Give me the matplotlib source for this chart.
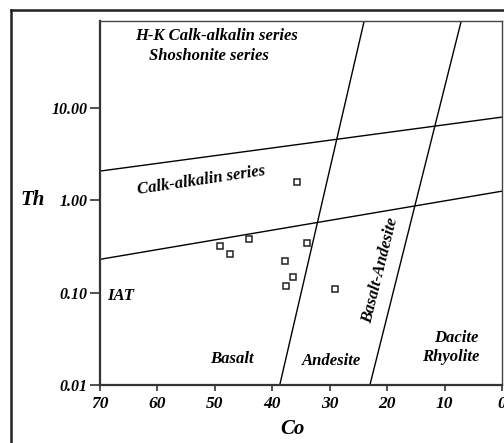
import matplotlib
matplotlib.use('Agg')
import matplotlib.pyplot as plt
from matplotlib.lines import Line2D

# datos de las muestras (Co, Th)
co = [49.1, 47.4, 44.1, 35.7, 34.0, 37.8, 36.4, 37.6, 29.1]
th = [0.32, 0.26, 0.38, 1.58, 0.345, 0.22, 0.148, 0.118, 0.11]

# limites del diagrama (extremos de cada recta)
linea_sup_co = [70, 0]
linea_sup_th = [2.08, 8.0]
linea_inf_co = [70, 0]
linea_inf_th = [0.23, 1.26]
linea_izq_co = [38.7, 24.0]
linea_izq_th = [0.01, 88]
linea_der_co = [23.0, 7.1]
linea_der_th = [0.01, 88]

yticks = [0.01, 0.1, 1, 10]
ylabels = ["0.01", "0.10", "1.00", "10.00"]
xticks = [70, 60, 50, 40, 30, 20, 10, 0]

fuente = dict(family='Liberation Serif', weight='bold', style='italic')

fig = plt.figure(figsize=(5.04, 4.43), dpi=100)
ax = fig.add_axes([100/504, 1-385/443, 402/504, 364/443])
ax.set_yscale('log')
ax.set_xlim(70, 0)
ax.set_ylim(0.01, 88)

for xs, ys in [(linea_sup_co, linea_sup_th), (linea_inf_co, linea_inf_th),
               (linea_izq_co, linea_izq_th), (linea_der_co, linea_der_th)]:
  ax.plot(xs, ys, color='black', lw=1.0, clip_on=True)

ax.plot(co, th, ls='none', marker='s', ms=5, mfc='white', mec='#222222', mew=1.1)

ax.set_yticks(yticks)
ax.set_yticklabels(ylabels, **fuente, fontsize=11.5)
ax.set_xticks(xticks)
ax.set_xticklabels([str(v) for v in xticks], **fuente, fontsize=12.5)
ax.minorticks_off()
ax.tick_params(axis='y', direction='out', length=7, width=1.2, color='#333333', pad=2)
ax.tick_params(axis='x', direction='out', length=4, width=1.2, color='#333333', pad=4)

for s in ['left', 'bottom']:
  ax.spines[s].set_linewidth(1.6)
  ax.spines[s].set_color('#333333')
for s in ['top', 'right']:
  ax.spines[s].set_linewidth(1.0)
  ax.spines[s].set_color('#444444')

# textos de los campos
def px(x, y):
  return (x/504, 1-y/443)

fig.text(*px(217, 36), "H-K Calk-alkalin series", ha='center', va='center', fontsize=12, **fuente)
fig.text(*px(209, 56), "Shoshonite series", ha='center', va='center', fontsize=12, **fuente)
fig.text(*px(201, 180), "Calk-alkalin series", ha='center', va='center', fontsize=12, rotation=8.5, **fuente)
fig.text(*px(107, 296), "IAT", ha='left', va='center', fontsize=12, **fuente)
fig.text(*px(232, 359), "Basalt", ha='center', va='center', fontsize=12, **fuente)
fig.text(*px(331, 361), "Andesite", ha='center', va='center', fontsize=12, **fuente)
fig.text(*px(380, 270), "Basalt-Andesite", ha='center', va='center', fontsize=12, rotation=76, **fuente)
fig.text(*px(479, 338), "Dacite", ha='right', va='center', fontsize=12, **fuente)
fig.text(*px(479, 357), "Rhyolite", ha='right', va='center', fontsize=12, **fuente)

fig.text(*px(33, 200), "Th", ha='center', va='center', fontsize=15, **fuente)
fig.text(*px(292, 429), "Co", ha='center', va='center', fontsize=15, **fuente)

# marco exterior
fig.add_artist(Line2D([11/504, 1], [1-10/443, 1-10/443], color='#222222', lw=1.8))
fig.add_artist(Line2D([11/504, 11/504], [0, 1-10/443], color='#222222', lw=1.8))

plt.savefig('out.png', dpi=100)
